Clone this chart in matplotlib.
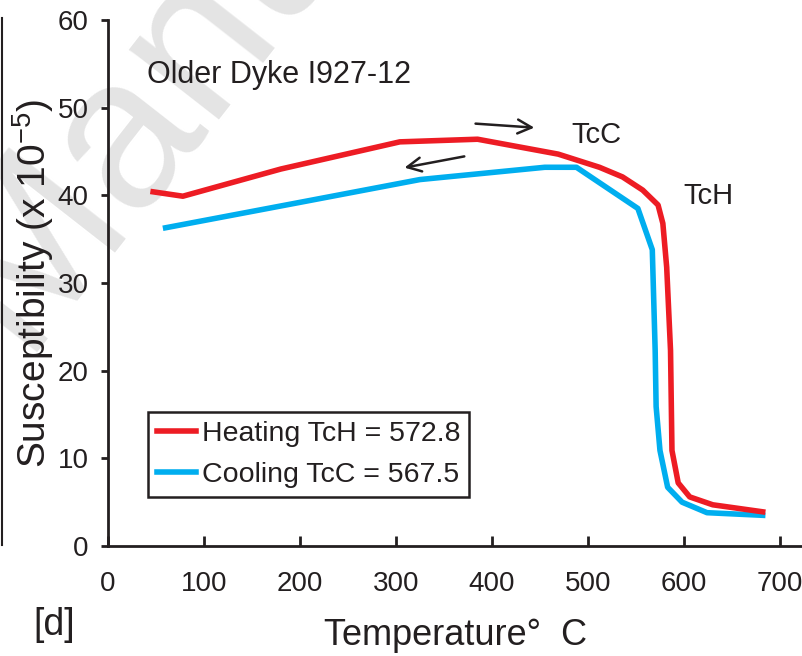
import matplotlib.pyplot as plt
from matplotlib.lines import Line2D
from matplotlib import font_manager

# heating / cooling curves
temp_heat = [47, 78, 180, 304, 385, 469, 512, 536, 557, 573, 578, 582, 586, 587.5, 594, 606, 630, 682]
chi_heat = [40.4, 39.9, 43.0, 46.1, 46.4, 44.7, 43.2, 42.1, 40.6, 38.9, 36.8, 31.8, 22.3, 10.9, 7.2, 5.6, 4.7, 3.9]
temp_cool = [60, 200, 325, 455, 488, 552, 567, 570, 571, 575, 583, 598, 624, 682]
chi_cool = [36.3, 39.2, 41.8, 43.2, 43.2, 38.5, 33.8, 22.3, 15.9, 10.9, 6.7, 5.0, 3.8, 3.5]
xticks = [0, 100, 200, 300, 400, 500, 600, 700]
yticks = [0, 10, 20, 30, 40, 50, 60]
label_heat = "Heating TcH = 572.8"
label_cool = "Cooling TcC = 567.5"

names = {f.name for f in font_manager.fontManager.ttflist}
main_font = "Liberation Sans" if "Liberation Sans" in names else "DejaVu Sans"
plt.rcParams['font.family'] = [main_font, 'DejaVu Sans']
plt.rcParams['mathtext.fontset'] = 'custom'
plt.rcParams['mathtext.rm'] = main_font

W, H = 803, 656
ink = '#231f20'
fig = plt.figure(figsize=(W / 100, H / 100), dpi=100)

#%% watermark + leftover frame from neighbouring panel
fig.text(20 / W, 1 - 352 / H, "Manuscript", rotation=52, rotation_mode='anchor',
         ha='left', va='baseline', fontsize=155, color='#e4e4e4', zorder=-5)
fig.add_artist(Line2D([2 / W, 2 / W], [1 - 545 / H, 1 - 18 / H], color=ink, lw=1.5))

ax = fig.add_axes([108 / W, 110 / H, (W - 108) / W, 526 / H])
ax.patch.set_alpha(0)

l1, = ax.plot(temp_heat, chi_heat, color='#ED1C24', lw=4, solid_joinstyle='round', zorder=3)
l2, = ax.plot(temp_cool, chi_cool, color='#00AEEF', lw=4, solid_joinstyle='round', zorder=2)

ax.set_xlim(0, 724)
ax.set_ylim(0, 60)
ax.spines['top'].set_visible(False)
ax.spines['right'].set_visible(False)
for s in ['left', 'bottom']:
    ax.spines[s].set_linewidth(2)
    ax.spines[s].set_color(ink)

ax.set_xticks(xticks)
ax.set_yticks(yticks)
ax.tick_params(axis='x', direction='in', length=7, width=2, pad=18, colors=ink, labelsize=20)
ax.tick_params(axis='y', direction='out', length=5, width=2, pad=9, colors=ink, labelsize=20)

ax.set_xlabel("Temperature°  C", fontsize=26, color=ink, labelpad=15)
ax.set_ylabel(r"Susceptibility (x 10$^{\mathregular{-5}}$)", fontsize=28, color=ink)
ax.yaxis.set_label_coords(-0.075, 0.5)

ax.text(40.6, 52.8, "Older Dyke I927-12", fontsize=22, color=ink, va='baseline')
ax.text(483, 46.0, "TcC", fontsize=21, color=ink, va='baseline')
ax.text(599, 39.0, "TcH", fontsize=21, color=ink, va='baseline')

ax.annotate("", xy=(447, 47.7), xytext=(380, 48.2),
            arrowprops=dict(arrowstyle='->', color=ink, lw=1.8, mutation_scale=25))
ax.annotate("", xy=(306, 43.1), xytext=(374, 44.5),
            arrowprops=dict(arrowstyle='->', color=ink, lw=1.8, mutation_scale=25))

leg = ax.legend([l1, l2], [label_heat, label_cool], loc='upper left',
                bbox_to_anchor=(148 / W, 1 - 412 / H), bbox_transform=fig.transFigure,
                fontsize=20.5, frameon=True, fancybox=False, framealpha=1, edgecolor=ink,
                handlelength=1.4, handletextpad=0.2, borderpad=0.3, labelspacing=0.55,
                borderaxespad=0)
leg.get_frame().set_linewidth(1.8)
for t in leg.get_texts():
    t.set_color(ink)

fig.text(33 / W, 1 - 635 / H, "[d]", fontsize=27, color=ink, va='baseline')

fig.savefig("out.png", dpi=100)
